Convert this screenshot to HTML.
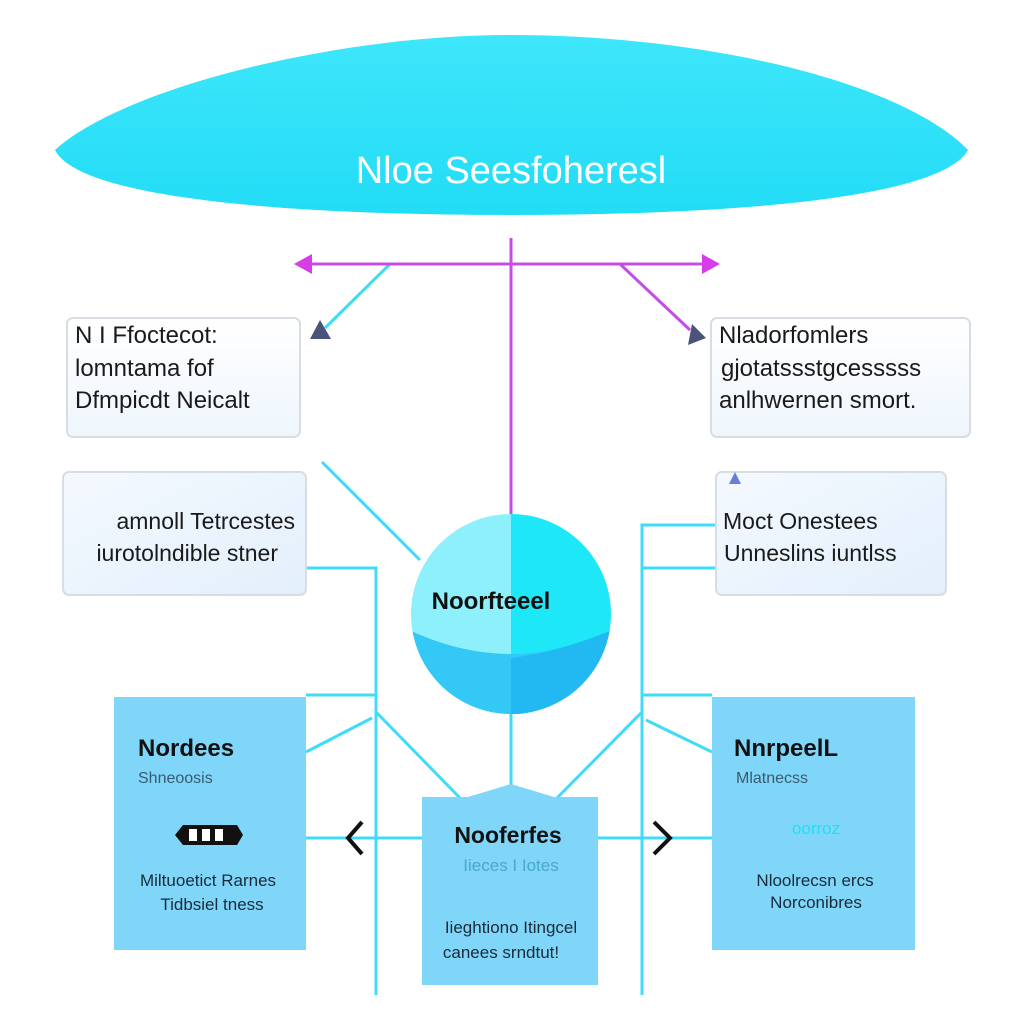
<!DOCTYPE html>
<html><head><meta charset="utf-8"><style>
html,body{margin:0;padding:0;background:#fff}
svg{display:block}
text{font-family:"Liberation Sans",sans-serif}
</style></head><body>
<svg width="1024" height="1024" viewBox="0 0 1024 1024">
<defs>
<linearGradient id="el" x1="0" y1="0" x2="0" y2="1"><stop offset="0" stop-color="#3ee6fa"/><stop offset="1" stop-color="#22dcf6"/></linearGradient>
<linearGradient id="bx" x1="0" y1="0" x2="0" y2="1"><stop offset="0" stop-color="#fff"/><stop offset="1" stop-color="#eef6fc"/></linearGradient>
<linearGradient id="bx2" x1="0" y1="0" x2="1" y2="1"><stop offset="0" stop-color="#f4f9fe"/><stop offset="1" stop-color="#e3effc"/></linearGradient>
<clipPath id="cc"><circle cx="511" cy="614" r="100"/></clipPath>
</defs>
<path d="M55 150 C 120 90, 330 35, 511 35 C 700 35, 900 80, 968 150 C 940 200, 720 215, 511 215 C 300 215, 80 200, 55 150 Z" fill="url(#el)"/>
<text x="511" y="183" font-size="38" fill="#fff" text-anchor="middle">Nloe Seesfoheresl</text>

<g stroke="#3fdcf8" stroke-width="3" fill="none">
<line x1="390" y1="264" x2="325" y2="328"/>
<line x1="322" y1="462" x2="420" y2="560"/>
<polyline points="306,568 376,568 376,995"/>
<line x1="306" y1="695" x2="376" y2="695"/>
<line x1="306" y1="752" x2="372" y2="718"/>
<line x1="376" y1="712" x2="462" y2="800"/>
<line x1="306" y1="838" x2="422" y2="838"/>
<polyline points="716,525 642,525 642,995"/>
<line x1="642" y1="568" x2="716" y2="568"/>
<line x1="642" y1="695" x2="712" y2="695"/>
<line x1="712" y1="752" x2="646" y2="720"/>
<line x1="642" y1="712" x2="555" y2="800"/>
<line x1="598" y1="838" x2="712" y2="838"/>
<line x1="511" y1="712" x2="511" y2="790"/>
</g>
<g stroke="#c74ce6" stroke-width="3" fill="none">
<line x1="511" y1="238" x2="511" y2="515"/>
<line x1="305" y1="264" x2="708" y2="264"/>
<line x1="620" y1="264" x2="690" y2="330"/>
</g>
<polygon points="294,264 312,254 312,274" fill="#d63ce8"/>
<polygon points="720,264 702,254 702,274" fill="#d63ce8"/>
<polygon points="310,339 320,320 331,339" fill="#4a5478"/>
<polygon points="688,345 692,324 706,338" fill="#4a5478"/>

<rect x="67" y="318" width="233" height="119" rx="6" fill="url(#bx)" stroke="#d8dde4" stroke-width="2"/>
<text font-size="24" fill="#1a1a1a"><tspan x="75" y="343">N I Ffoctecot:</tspan><tspan x="75" y="376">lomntama fof</tspan><tspan x="75" y="408">Dfmpicdt Neicalt</tspan></text>
<rect x="711" y="318" width="259" height="119" rx="6" fill="url(#bx)" stroke="#d8dde4" stroke-width="2"/>
<text font-size="24" fill="#1a1a1a"><tspan x="719" y="343">Nladorfomlers</tspan><tspan x="721" y="376">gjotatssstgcesssss</tspan><tspan x="719" y="408">anlhwernen smort.</tspan></text>
<rect x="63" y="472" width="243" height="123" rx="6" fill="url(#bx2)" stroke="#d6dde6" stroke-width="2"/>
<text font-size="23" fill="#1a1a1a" text-anchor="end"><tspan x="295" y="529">amnoll Tetrcestes</tspan><tspan x="278" y="561">iurotolndible stner</tspan></text>
<rect x="716" y="472" width="230" height="123" rx="6" fill="url(#bx2)" stroke="#d6dde6" stroke-width="2"/>
<polygon points="729,484 735,472 741,484" fill="#6a7ed8"/>
<text font-size="23" fill="#1a1a1a"><tspan x="723" y="529">Moct  Onestees</tspan><tspan x="724" y="561">Unneslins iuntlss</tspan></text>

<g clip-path="url(#cc)">
<rect x="410" y="513" width="101" height="202" fill="#8ef0fb"/>
<rect x="511" y="513" width="101" height="202" fill="#1ee8f8"/>
<path d="M405 628 Q511 680 617 628 L617 720 L405 720 Z" fill="#33c8f6"/>
<path d="M511 658 Q560 652 617 628 L617 720 L511 720 Z" fill="#22b8f2"/>
</g>
<text x="491" y="609" font-size="24" font-weight="bold" fill="#111" text-anchor="middle">Noorfteeel</text>

<rect x="114" y="697" width="192" height="253" fill="#7fd6f8"/>
<text x="138" y="756" font-size="24" font-weight="bold" fill="#111">Nordees</text>
<text x="138" y="783" font-size="16" fill="#3a5a70">Shneoosis</text>
<polygon points="175,835 183,825 237,825 243,835 237,845 183,845" fill="#111"/>
<rect x="189" y="829" width="8" height="12" fill="#fff"/><rect x="202" y="829" width="8" height="12" fill="#fff"/><rect x="215" y="829" width="8" height="12" fill="#fff"/>
<text font-size="17" fill="#1a2a3a" text-anchor="middle"><tspan x="208" y="886">Miltuoetict Rarnes</tspan><tspan x="212" y="910">Tidbsiel tness</tspan></text>

<rect x="712" y="697" width="203" height="253" fill="#7fd6f8"/>
<text x="734" y="756" font-size="24" font-weight="bold" fill="#111">NnrpeelL</text>
<text x="736" y="783" font-size="16" fill="#3a5a70">Mlatnecss</text>
<text x="816" y="834" font-size="17" fill="#1ee0f6" text-anchor="middle">oorroz</text>
<text font-size="17" fill="#1a2a3a" text-anchor="middle"><tspan x="815" y="886">Nloolrecsn ercs</tspan><tspan x="816" y="908">Norconibres</tspan></text>

<path d="M422 797 L468 797 L511 784 L554 797 L598 797 L598 985 L422 985 Z" fill="#7fd6f8"/>
<text x="508" y="843" font-size="23" font-weight="bold" fill="#111" text-anchor="middle">Nooferfes</text>
<text x="511" y="871" font-size="17" fill="#4aa8c8" text-anchor="middle">Iieces  I Iotes</text>
<text font-size="17" fill="#1a2a3a" text-anchor="middle"><tspan x="511" y="933">Iieghtiono Itingcel</tspan><tspan x="501" y="958">canees srndtut!</tspan></text>

<polyline points="362,822 348,838 362,854" stroke="#111" stroke-width="4" fill="none"/>
<polyline points="654,822 670,838 654,854" stroke="#111" stroke-width="4" fill="none"/>
</svg>
</body></html>
